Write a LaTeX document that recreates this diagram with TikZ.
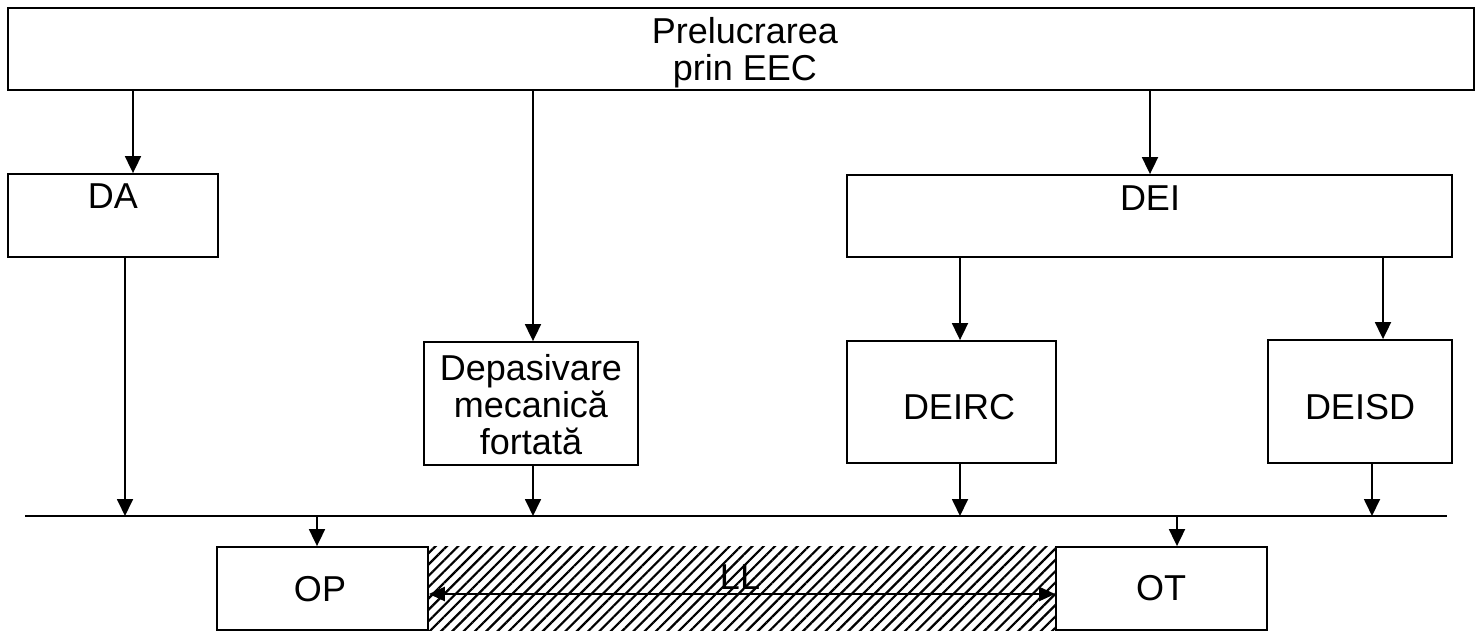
\documentclass[tikz,border=0pt]{standalone}
\usepackage{fontspec}
\setmainfont{Liberation Sans}
\usetikzlibrary{arrows.meta,patterns.meta}
\begin{document}
\begin{tikzpicture}[x=1pt,y=-1pt,
  box/.style={draw,line width=1.8pt,inner sep=0pt},
  lbl/.style={font=\fontsize{36}{37}\selectfont,align=center,inner sep=0pt},
  arr/.style={line width=1.8pt,-{Triangle[width=16pt,length=17pt]}},
  bus/.style={line width=1.8pt}]
\useasboundingbox (0,0) rectangle (1481,631);
% boxes
\node[box,minimum width=1466pt,minimum height=82pt] (top) at (741,49) {};
\node[box,minimum width=210pt,minimum height=83pt] (DA) at (113,215.5) {};
\node[box,minimum width=605pt,minimum height=82pt] (DEI) at (1149.5,216) {};
\node[box,minimum width=214pt,minimum height=123pt] (DEP) at (531,403.5) {};
\node[box,minimum width=209pt,minimum height=122pt] (DEIRC) at (951.5,402) {};
\node[box,minimum width=184pt,minimum height=123pt] (DEISD) at (1360,401.5) {};
\node[box,minimum width=211pt,minimum height=83pt] (OP) at (322.5,588.5) {};
\node[box,minimum width=211pt,minimum height=83pt] (OT) at (1161.5,588.5) {};
% texts
\node[lbl] (topt) at (745,53) {Prelucrarea\\prin EEC};
\node[lbl] (DAt) at (113,196) {DA};
\node[lbl] (DEIt) at (1150,198) {DEI};
\node[lbl] (DEPt) at (531,405) {Depasivare\\mecanică\\fortată};
\node[lbl] (DEIRCt) at (959,407) {DEIRC};
\node[lbl] (DEISDt) at (1360,407) {DEISD};
\node[lbl] (OPt) at (320,589) {OP};
\node[lbl] (OTt) at (1161,588) {OT};
% hatched gap
\fill[pattern={Lines[angle=45,distance=8pt,line width=2.2pt]}] (OP.north east) rectangle (OT.south west);
\node[lbl] (LL) at (740,577) {LL};
\draw[line width=2.4pt,{Triangle[width=14pt,length=16pt]}-{Triangle[width=14pt,length=16pt]}] (OP.east |- 0,594) -- (OT.west |- 0,594);
% bus line
\coordinate (busL) at (25,516);
\coordinate (busR) at (1447,516);
\draw[bus] (busL) -- (busR);
% arrows from top
\draw[arr] (133,0 |- top.south) -- (133,0 |- DA.north);
\draw[arr] (533,0 |- top.south) -- (533,0 |- DEP.north);
\draw[arr] (1150,0 |- top.south) -- (1150,0 |- DEI.north);
% from DEI
\draw[arr] (960,0 |- DEI.south) -- (960,0 |- DEIRC.north);
\draw[arr] (1383,0 |- DEI.south) -- (1383,0 |- DEISD.north);
% to bus
\draw[arr] (125,0 |- DA.south) -- (125,0 |- busL);
\draw[arr] (533,0 |- DEP.south) -- (533,0 |- busL);
\draw[arr] (960,0 |- DEIRC.south) -- (960,0 |- busL);
\draw[arr] (1372,0 |- DEISD.south) -- (1372,0 |- busL);
% from bus
\draw[arr] (317,0 |- busL) -- (317,0 |- OP.north);
\draw[arr] (1177,0 |- busL) -- (1177,0 |- OT.north);
\end{tikzpicture}
\end{document}
